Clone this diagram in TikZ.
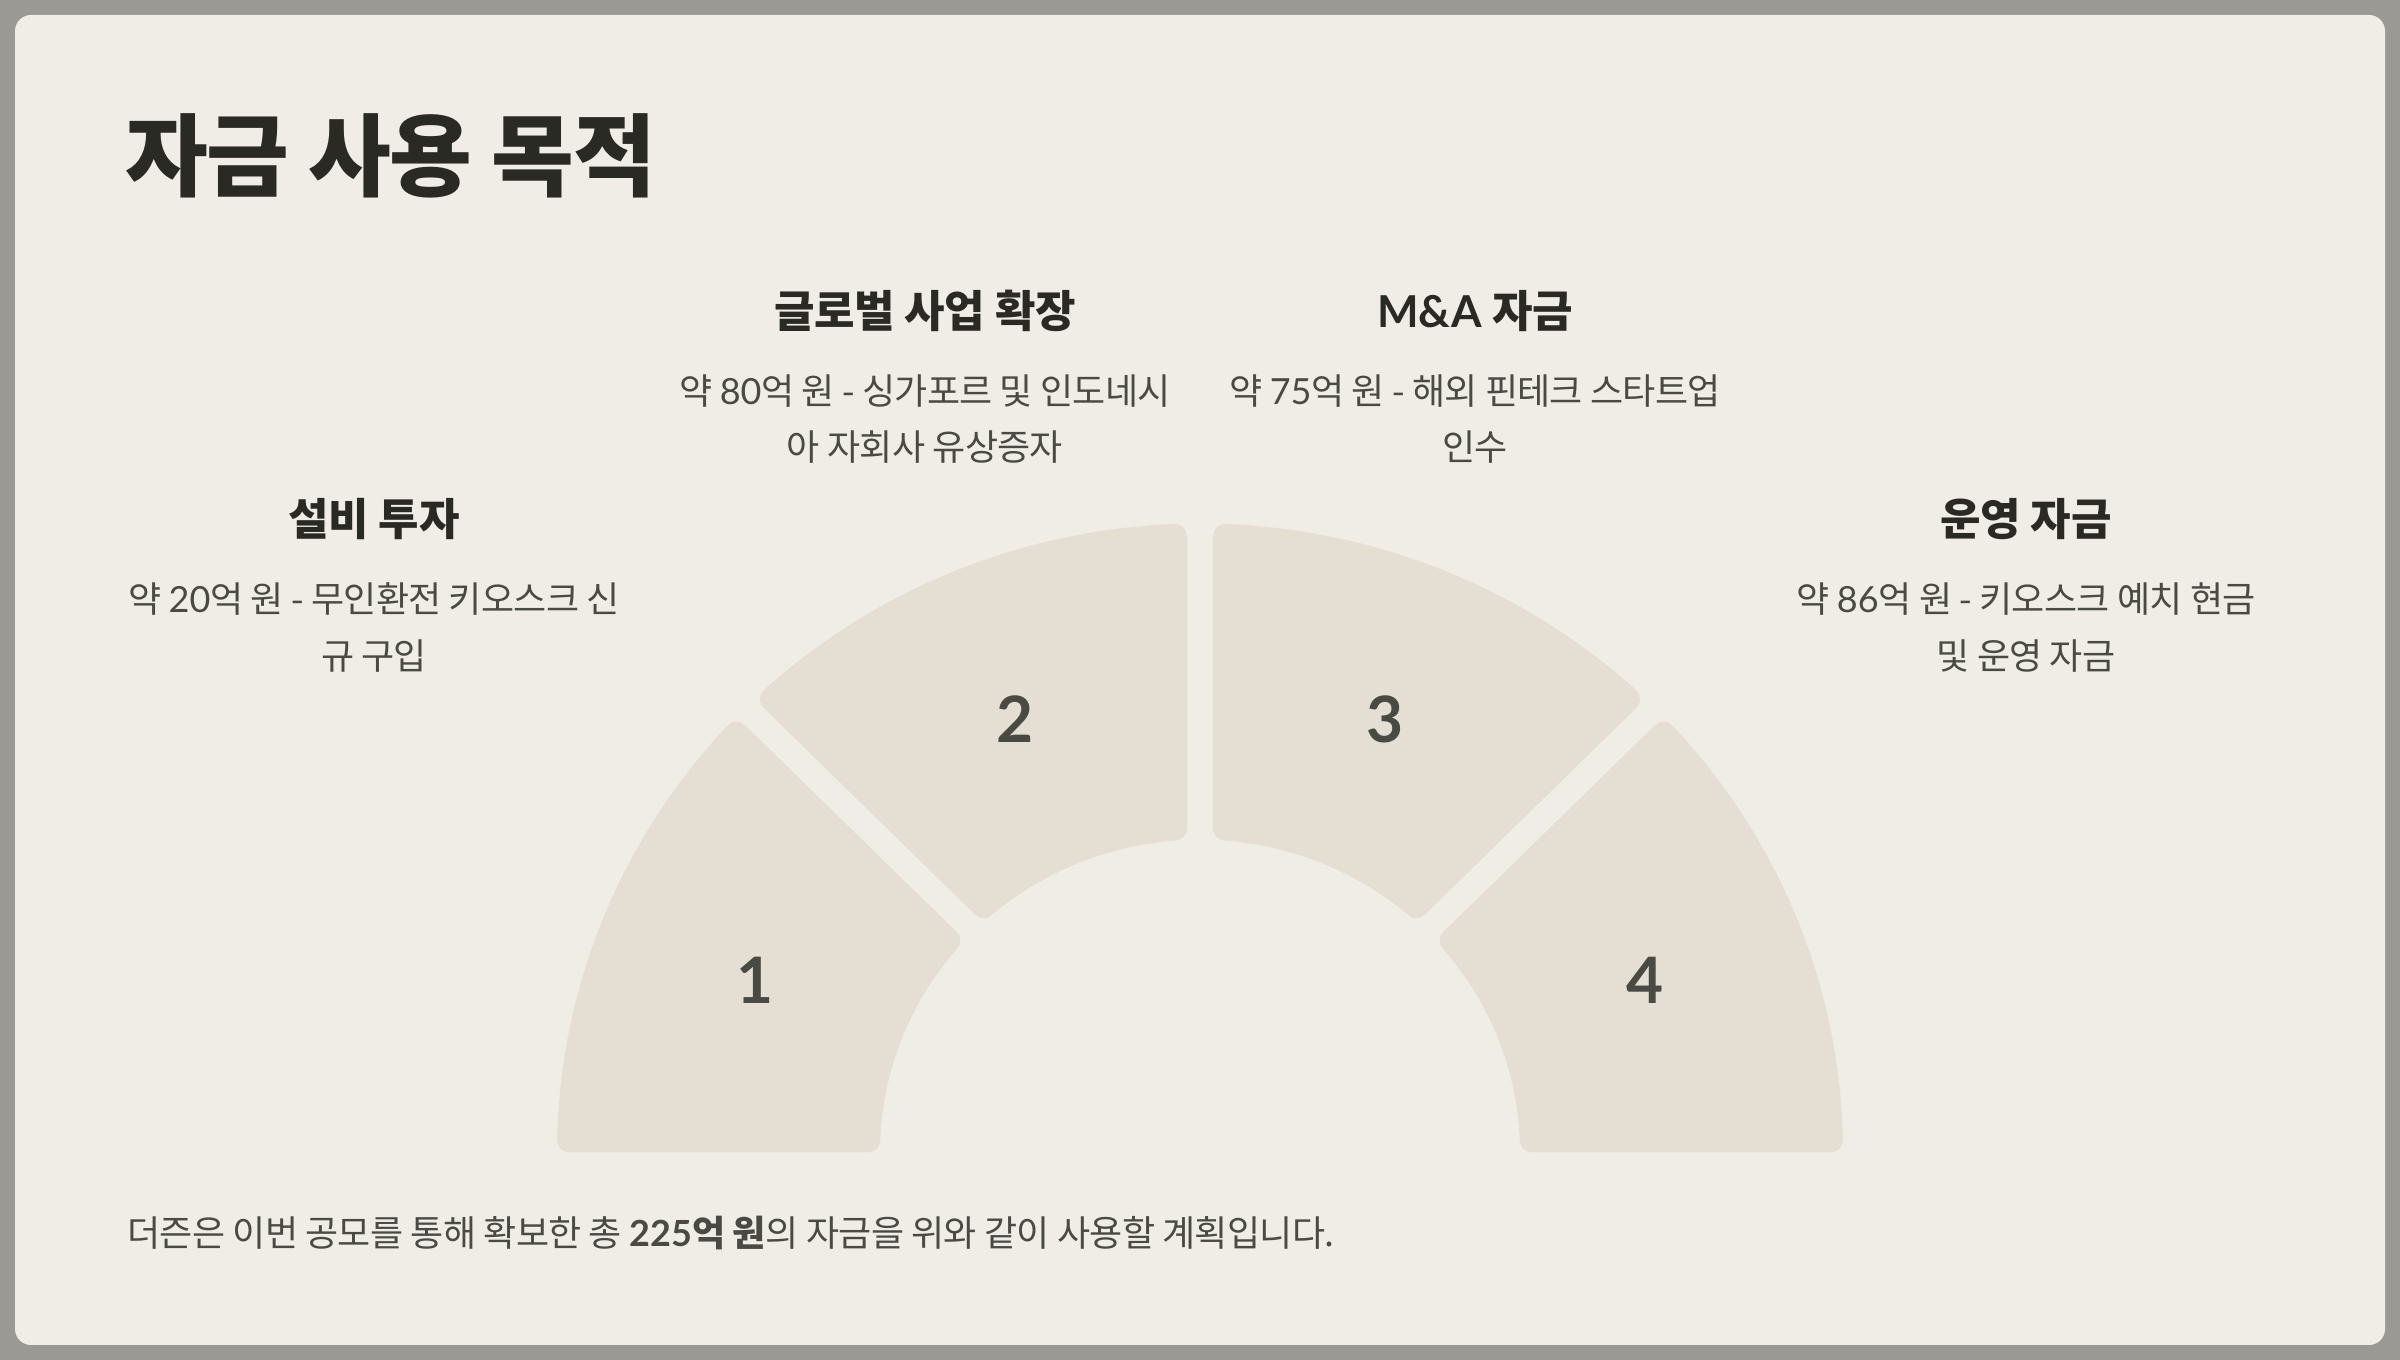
\documentclass[tikz,border=0pt]{standalone}
\usepackage{fontspec}
\setmainfont{Noto Sans CJK KR}[LetterSpace=-2]
\newfontfamily\lat{Lato}
\newfontfamily\ttl{Noto Sans CJK KR}[LetterSpace=-1.7]
\newfontfamily\hd{Noto Sans CJK KR}[LetterSpace=-0.7]
\definecolor{frame}{HTML}{9A9994}
\definecolor{card}{HTML}{F0EDE6}
\definecolor{seg}{HTML}{E4DFD2}
\definecolor{ink}{HTML}{2A2A25}
\definecolor{txt}{HTML}{4A4A44}
\tikzset{
  headtxt/.style={font=\hd\fontsize{22}{26}\selectfont\bfseries, text=ink, inner sep=0pt, anchor=center},
  desctxt/.style={font=\fontsize{18}{22}\selectfont, text=txt, inner sep=0pt, anchor=center},
  numtxt/.style={font=\fontsize{32}{38}\selectfont\lat\bfseries, text=txt, inner sep=0pt, anchor=center},
  segfill/.style={fill=seg, draw=seg, line width=12pt, line join=round},
}
\begin{document}
\begin{tikzpicture}[x=0.5pt,y=0.5pt]
\useasboundingbox (0,0) rectangle (2400,1360);
\fill[frame] (0,0) rectangle (2400,1360);
\fill[card, rounded corners=8pt] (15,15) rectangle (2385,1345);

% title
\node[anchor=west, inner sep=0pt, text=ink, font=\ttl\fontsize{45}{54}\selectfont\bfseries] (title) at (125,1204) {자금 사용 목적};

% segments
\begin{scope}[shift={(1200,208)}, yscale=0.977]
\path[segfill] (137.271:631) arc[start angle=137.271, end angle=178.910, radius=315.5pt] -- (177.929:332) arc[start angle=177.929, end angle=139.319, radius=166pt] -- cycle;
\path[segfill] (92.271:631) arc[start angle=92.271, end angle=132.729, radius=315.5pt] -- (130.681:332) arc[start angle=130.681, end angle=94.319, radius=166pt] -- cycle;
\path[segfill] (47.271:631) arc[start angle=47.271, end angle=87.729, radius=315.5pt] -- (85.681:332) arc[start angle=85.681, end angle=49.319, radius=166pt] -- cycle;
\path[segfill] (1.090:631) arc[start angle=1.090, end angle=42.729, radius=315.5pt] -- (40.681:332) arc[start angle=40.681, end angle=2.071, radius=166pt] -- cycle;
\end{scope}

% numbers
\node[numtxt] (n1) at (755,380) {1};
\node[numtxt] (n2) at (1015,641) {2};
\node[numtxt] (n3) at (1385,641) {3};
\node[numtxt] (n4) at (1645,380) {4};

% labels
\node[headtxt] (h1) at (374,841) {설비 투자};
\node[desctxt] (d1a) at (374,761) {약 {\lat 20}억 원 - 무인환전 키오스크 신};
\node[desctxt] (d1b) at (374,704) {규 구입};

\node[headtxt] (h2) at (925,1049) {글로벌 사업 확장};
\node[desctxt] (d2a) at (925,969) {약 {\lat 80}억 원 - 싱가포르 및 인도네시};
\node[desctxt] (d2b) at (925,913) {아 자회사 유상증자};

\node[headtxt] (h3) at (1475,1049) {{\lat M\&A} 자금};
\node[desctxt] (d3a) at (1475,969) {약 {\lat 75}억 원 - 해외 핀테크 스타트업};
\node[desctxt] (d3b) at (1475,913) {인수};

\node[headtxt] (h4) at (2026,841) {운영 자금};
\node[desctxt] (d4a) at (2026,761) {약 {\lat 86}억 원 - 키오스크 예치 현금};
\node[desctxt] (d4b) at (2026,704) {및 운영 자금};

% footer
\node[desctxt, anchor=west] (foot) at (127,127) {더즌은 이번 공모를 통해 확보한 총 {\bfseries{\lat 225}억 원}의 자금을 위와 같이 사용할 계획입니다.};
\end{tikzpicture}
\end{document}
